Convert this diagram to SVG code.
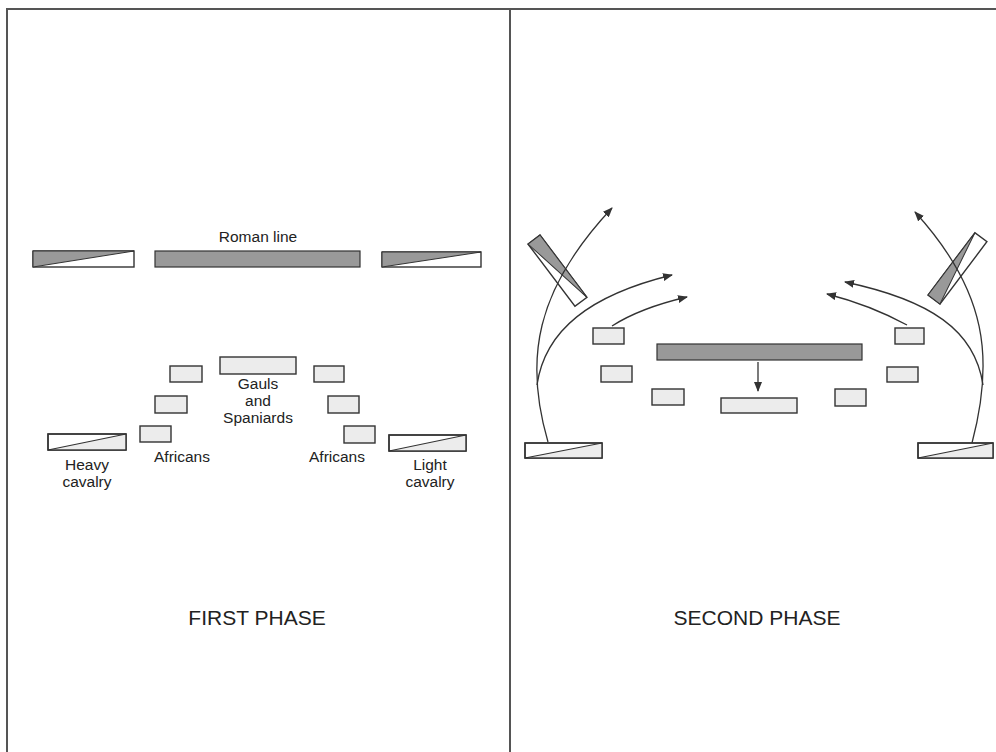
<svg xmlns="http://www.w3.org/2000/svg" width="996" height="752" viewBox="0 0 996 752">
<defs>
<style>
.frame{fill:none;stroke:#555;stroke-width:2}
.box{fill:#ececec;stroke:#333;stroke-width:1.4}
.wbox{fill:#fff;stroke:#333;stroke-width:1.4}
.dark{fill:#999;stroke:#333;stroke-width:1.2}
.tri{fill:#999;stroke:#333;stroke-width:1}
.ltri{fill:#ececec;stroke:none}
.diag{stroke:#333;stroke-width:1.2;fill:none}
.arr{fill:none;stroke:#333;stroke-width:1.3;marker-end:url(#ah)}
text{font-family:"Liberation Sans",Arial,sans-serif;fill:#222;text-anchor:middle}
.lbl{font-size:15.5px}
.phase{font-size:21px}
</style>
<marker id="ah" viewBox="0 0 10 8" refX="9" refY="4" markerWidth="10" markerHeight="8" markerUnits="userSpaceOnUse" orient="auto">
<path d="M0,0 L10,4 L0,8 Z" fill="#333"/>
</marker>
</defs>
<rect width="996" height="752" fill="#fff"/>
<g id="frame">
<path class="frame" d="M7,752 V9 H996"/>
<line class="frame" x1="510" y1="9" x2="510" y2="752"/>
</g>

<g id="first-phase">
<g id="roman-left-cavalry">
<rect class="wbox" x="33" y="251" width="101" height="16"/>
<polygon class="tri" points="33,251 134,251 33,267"/>
</g>
<g id="roman-line">
<rect class="dark" x="155" y="251" width="205" height="16"/>
<text class="lbl" x="258" y="242">Roman line</text>
</g>
<g id="roman-right-cavalry">
<rect class="wbox" x="382" y="252" width="99" height="15"/>
<polygon class="tri" points="382,252 481,252 382,267"/>
</g>
<g id="gauls-spaniards">
<rect class="box" x="220" y="357" width="76" height="17"/>
<text class="lbl" x="258" y="389">Gauls</text>
<text class="lbl" x="258" y="406">and</text>
<text class="lbl" x="258" y="423">Spaniards</text>
</g>
<g id="africans-left">
<rect class="box" x="170" y="366" width="32" height="16"/>
<rect class="box" x="155" y="396" width="32" height="17"/>
<rect class="box" x="140" y="426" width="31" height="16"/>
<text class="lbl" x="182" y="462">Africans</text>
</g>
<g id="africans-right">
<rect class="box" x="314" y="366" width="30" height="16"/>
<rect class="box" x="328" y="396" width="31" height="17"/>
<rect class="box" x="344" y="426" width="31" height="17"/>
<text class="lbl" x="337" y="462">Africans</text>
</g>
<g id="heavy-cavalry">
<rect class="wbox" x="48" y="434" width="78" height="16"/>
<polygon class="ltri" points="48,450 126,434 126,450"/>
<line class="diag" x1="48" y1="450" x2="126" y2="434"/>
<rect x="48" y="434" width="78" height="16" fill="none" stroke="#333" stroke-width="1.4"/>
<text class="lbl" x="87" y="470">Heavy</text>
<text class="lbl" x="87" y="487">cavalry</text>
</g>
<g id="light-cavalry">
<rect class="wbox" x="389" y="435" width="77" height="16"/>
<polygon class="ltri" points="389,451 466,435 466,451"/>
<line class="diag" x1="389" y1="451" x2="466" y2="435"/>
<rect x="389" y="435" width="77" height="16" fill="none" stroke="#333" stroke-width="1.4"/>
<text class="lbl" x="430" y="470">Light</text>
<text class="lbl" x="430" y="487">cavalry</text>
</g>
<text id="first-phase-title" class="phase" x="257" y="625">FIRST PHASE</text>
</g>

<g id="second-phase">
<g id="sp-roman-left-cavalry" transform="translate(540,235) rotate(53)">
<rect class="wbox" x="0" y="0" width="78" height="15"/>
<polygon class="tri" points="0,0 78,0 0,15"/>
</g>
<g id="sp-roman-right-cavalry" transform="translate(928,295) rotate(-53)">
<rect class="wbox" x="0" y="0" width="78" height="15"/>
<polygon class="tri" points="0,0 78,0 0,15"/>
</g>
<g id="sp-roman-line">
<rect class="dark" x="657" y="344" width="205" height="16"/>
</g>
<g id="sp-heavy-cavalry">
<rect class="wbox" x="525" y="443" width="77" height="15"/>
<polygon class="ltri" points="525,458 602,443 602,458"/>
<line class="diag" x1="525" y1="458" x2="602" y2="443"/>
<rect x="525" y="443" width="77" height="15" fill="none" stroke="#333" stroke-width="1.4"/>
</g>
<g id="sp-light-cavalry">
<rect class="wbox" x="918" y="443" width="75" height="15"/>
<polygon class="ltri" points="918,458 993,443 993,458"/>
<line class="diag" x1="918" y1="458" x2="993" y2="443"/>
<rect x="918" y="443" width="75" height="15" fill="none" stroke="#333" stroke-width="1.4"/>
</g>
<g id="sp-africans-left">
<rect class="box" x="593" y="328" width="31" height="16"/>
<rect class="box" x="601" y="366" width="31" height="16"/>
<rect class="box" x="652" y="389" width="32" height="16"/>
</g>
<g id="sp-gauls-spaniards">
<rect class="box" x="721" y="398" width="76" height="15"/>
</g>
<g id="sp-africans-right">
<rect class="box" x="895" y="328" width="29" height="16"/>
<rect class="box" x="887" y="367" width="31" height="15"/>
<rect class="box" x="835" y="389" width="31" height="17"/>
</g>
<text id="second-phase-title" class="phase" x="757" y="625">SECOND PHASE</text>
</g>

<g id="connectors">
<path class="arr" d="M548,442 C524,360 535,290 612,208"/>
<path class="arr" d="M537,385 C545,330 590,295 672,275"/>
<path class="arr" d="M612,326 Q640,308 687,297"/>
<path class="arr" d="M972,443 C994,360 988,292 915,212"/>
<path class="arr" d="M983,385 C975,330 930,300 845,282"/>
<path class="arr" d="M907,325 Q870,305 827,294"/>
<path class="arr" d="M758,362 L758,391"/>
</g>
</svg>
